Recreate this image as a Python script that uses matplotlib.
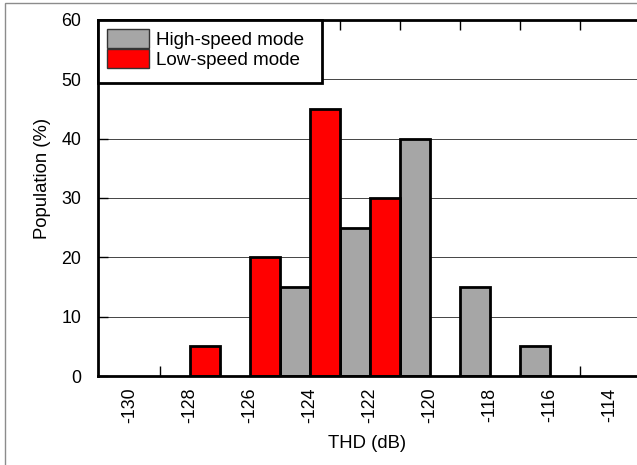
import matplotlib
matplotlib.use("Agg")
import matplotlib.pyplot as plt
from matplotlib.patches import Rectangle

plt.rcParams['font.family'] = ['Liberation Sans', 'DejaVu Sans']

# Data (bin left edges in dB, population in %)
high_bins = [-125, -123, -121, -119, -117]
high_vals = [15, 25, 40, 15, 5]
low_bins = [-128, -126, -124, -122]
low_vals = [5, 20, 45, 30]
xtick_vals = [-130, -128, -126, -124, -122, -120, -118, -116, -114]
ytick_vals = [0, 10, 20, 30, 40, 50, 60]

W, H = 637, 465
fig = plt.figure(figsize=(W / 100, H / 100), dpi=100)
ax_l, ax_r, ax_t, ax_b = 98, 640, 20, 376
ax = fig.add_axes([ax_l / W, 1 - ax_b / H, (ax_r - ax_l) / W, (ax_b - ax_t) / H])

# figure border (top and left visible)
fig.patches.append(Rectangle((5 / W, -0.2), 1.2, 1.2 - 3 / H, transform=fig.transFigure,
                             fill=False, edgecolor='#8c8c8c', lw=1.0, zorder=0))

ax.bar(high_bins, high_vals, width=1, align='edge', color='#a6a6a6',
       edgecolor='black', linewidth=2.0, label='High-speed mode', zorder=3)
ax.bar(low_bins, low_vals, width=1, align='edge', color='#ff0000',
       edgecolor='black', linewidth=2.0, label='Low-speed mode', zorder=3)

ax.set_xlim(-131.07, -113.0)
ax.set_ylim(0, 60)

ax.set_xticks(xtick_vals)
ax.set_xticklabels([str(v) for v in xtick_vals], rotation=90)
ax.set_xticks([v + 1 for v in xtick_vals[:-1]], minor=True)
ax.tick_params(axis='x', which='major', length=0, pad=8.5, labelsize=12.8)
ax.tick_params(axis='x', which='minor', direction='in', length=7, width=1,
               top=True, bottom=True)

ax.set_yticks(ytick_vals)
ax.tick_params(axis='y', which='major', direction='in', length=7, width=1,
               pad=12, labelsize=12.8, right=False)

ax.yaxis.grid(True, color='#444444', linewidth=0.7)
ax.set_axisbelow(True)

for s in ax.spines.values():
    s.set_linewidth(2)
    s.set_zorder(6)
ax.spines['right'].set_visible(False)

ax.set_xlabel('THD (dB)', fontsize=13.3, va='center')
ax.xaxis.set_label_coords(0.496, -0.191)
ax.set_ylabel('Population (%)', fontsize=13.3, va='center')
ax.yaxis.set_label_coords(-0.103, 0.556)

# legend frame
fx1 = (322 - ax_l) / (ax_r - ax_l)
fy0 = (ax_b - 83) / (ax_b - ax_t)
ax.add_patch(Rectangle((0, fy0), fx1, 1 - fy0, transform=ax.transAxes, facecolor='white',
                       edgecolor='black', lw=2.0, zorder=7, clip_on=False))
leg = ax.legend(loc='upper left', bbox_to_anchor=(0, 1), borderaxespad=0,
                frameon=False, fontsize=13.6, handlelength=2.2, handleheight=1.15,
                labelspacing=0, handletextpad=0.38, borderpad=0.5)
leg.set_zorder(8)
for p in leg.get_patches():
    p.set_linewidth(1.0)
    p.set_edgecolor('#333333')

fig.savefig('out.png', dpi=100)
